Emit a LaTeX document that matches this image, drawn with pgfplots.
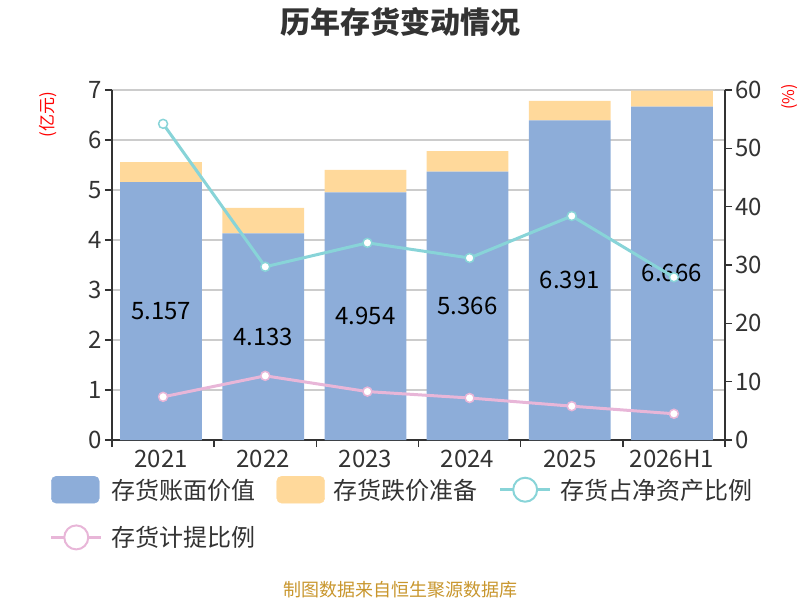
\documentclass[border=0pt]{standalone}
\usepackage{fontspec}
\setmainfont{Noto Sans CJK SC}
\usepackage{pgfplots}
\usepackage{pgfplotstable}
\pgfplotsset{compat=1.18}

\definecolor{cblue}{HTML}{8DADD9}
\definecolor{cyellow}{HTML}{FFD99B}
\definecolor{ccyan}{HTML}{88D4D8}
\definecolor{cpink}{HTML}{E8B6D8}
\definecolor{axisgray}{HTML}{333333}
\definecolor{gridgray}{HTML}{CCCCCC}
\definecolor{srccolor}{HTML}{C8962D}

\pgfplotstableread{
x book prov ratio provratio
0 5.157 0.40 54.2 7.4
1 4.133 0.51 29.7 11.0
2 4.954 0.45 33.8 8.3
3 5.366 0.41 31.2 7.2
4 6.391 0.39 38.4 5.8
5 6.666 0.32 27.9 4.5
}\datatable

\pgfplotsset{
  common/.style={
    at={(112pt,160pt)}, anchor=south west,
    scale only axis, width=613pt, height=350pt,
    xmin=-0.5, xmax=5.5,
    tick label style={font=\fontsize{24}{24}\selectfont, text=axisgray},
    /pgf/number format/assume math mode=true,
    tick align=outside,
    major tick length=7pt, minor tick length=7pt,
    axis line style={draw=axisgray, line width=1.5pt, -},
  }
}

\begin{document}
\begin{tikzpicture}[x=1pt,y=1pt]
\path[use as bounding box] (0,0) rectangle (800,600);

\begin{axis}[common,
  ymin=0, ymax=7,
  ybar stacked, bar width=0.8, bar shift=-2pt,
  axis y line*=left, axis x line*=bottom,
  xtick={0,...,5}, xticklabels={2021,2022,2023,2024,2025,2026H1},
  minor xtick={-0.5,0.5,...,5.5},
  major x tick style={draw=none},
  minor x tick style={draw=axisgray, line width=1.5pt},
  ytick={0,...,7},
  ytick style={draw=axisgray, line width=1.5pt},
  xticklabel style={inner sep=3pt, xshift=-2pt},
  ymajorgrids, major y grid style={gridgray, line width=1.2pt},
]
\addplot[fill=cblue, draw=none] table[x=x, y=book] {\datatable};
\addplot[fill=cyellow, draw=none] table[x=x, y=prov] {\datatable};
\end{axis}

\begin{axis}[common,
  ymin=0, ymax=7, hide axis,
  point meta=explicit symbolic,
  nodes near coords,
  every node near coord/.append style={anchor=center, font=\fontsize{24}{24}\selectfont, text=black, xshift=-2pt},
]
\addplot[draw=none, mark=none, nodes near coords] table[x=x, y expr=\thisrow{book}/2, meta=book] {\datatable};
\end{axis}

\begin{axis}[common,
  ymin=0, ymax=60, ytick={0,10,...,60},
  axis y line*=right, axis x line=none,
  ytick style={draw=axisgray, line width=1.5pt},
  legend columns=3,
  legend style={at={(-0.1011,-0.1029)}, anchor=north west, draw=none, fill=none,
    inner sep=0pt, outer sep=0pt, row sep=21pt,
    font=\fontsize{24}{24}\selectfont, text=axisgray,
    nodes={inner sep=0pt},
    /tikz/every odd column/.append style={column sep=9pt},
    /tikz/every even column/.append style={column sep=21pt}},
  legend cell align=left,
]
\addlegendimage{legend image code/.code={\fill[cblue, rounded corners=5pt] (0pt,-13.5pt) rectangle (48pt,13.5pt);}}
\addlegendentry{存货账面价值}
\addlegendimage{legend image code/.code={\fill[cyellow, rounded corners=5pt] (0pt,-13.5pt) rectangle (48pt,13.5pt);}}
\addlegendentry{存货跌价准备}
\addplot[ccyan, line width=3pt, mark=*, mark size=4.5pt,
  mark options={fill=white, draw=ccyan, line width=1.5pt},
  legend image code/.code={\draw[ccyan, line width=2.5pt] (0pt,0pt) -- (50pt,0pt);
    \draw[ccyan, line width=2pt, fill=white] (25pt,0pt) circle (12pt);}]
  table[x=x, y=ratio] {\datatable};
\addlegendentry{存货占净资产比例}
\addplot[cpink, line width=3pt, mark=*, mark size=4.5pt,
  mark options={fill=white, draw=cpink, line width=1.5pt},
  legend image code/.code={\draw[cpink, line width=2.5pt] (0pt,0pt) -- (50pt,0pt);
    \draw[cpink, line width=2pt, fill=white] (25pt,0pt) circle (12pt);}]
  table[x=x, y=provratio] {\datatable};
\addlegendentry{存货计提比例}
\end{axis}

\node[font=\fontsize{30}{30}\selectfont\bfseries, text=axisgray] at (400,578) {历年存货变动情况};
\node[font=\fontsize{18}{18}\selectfont, text=srccolor] at (400,10) {制图数据来自恒生聚源数据库};
\node[rotate=90, text=red, font=\fontsize{17}{17}\selectfont] at (48,485) {(亿元)};
\node[rotate=90, text=red, font=\fontsize{16}{16}\selectfont] at (790,503) {(\%)};
\end{tikzpicture}
\end{document}
